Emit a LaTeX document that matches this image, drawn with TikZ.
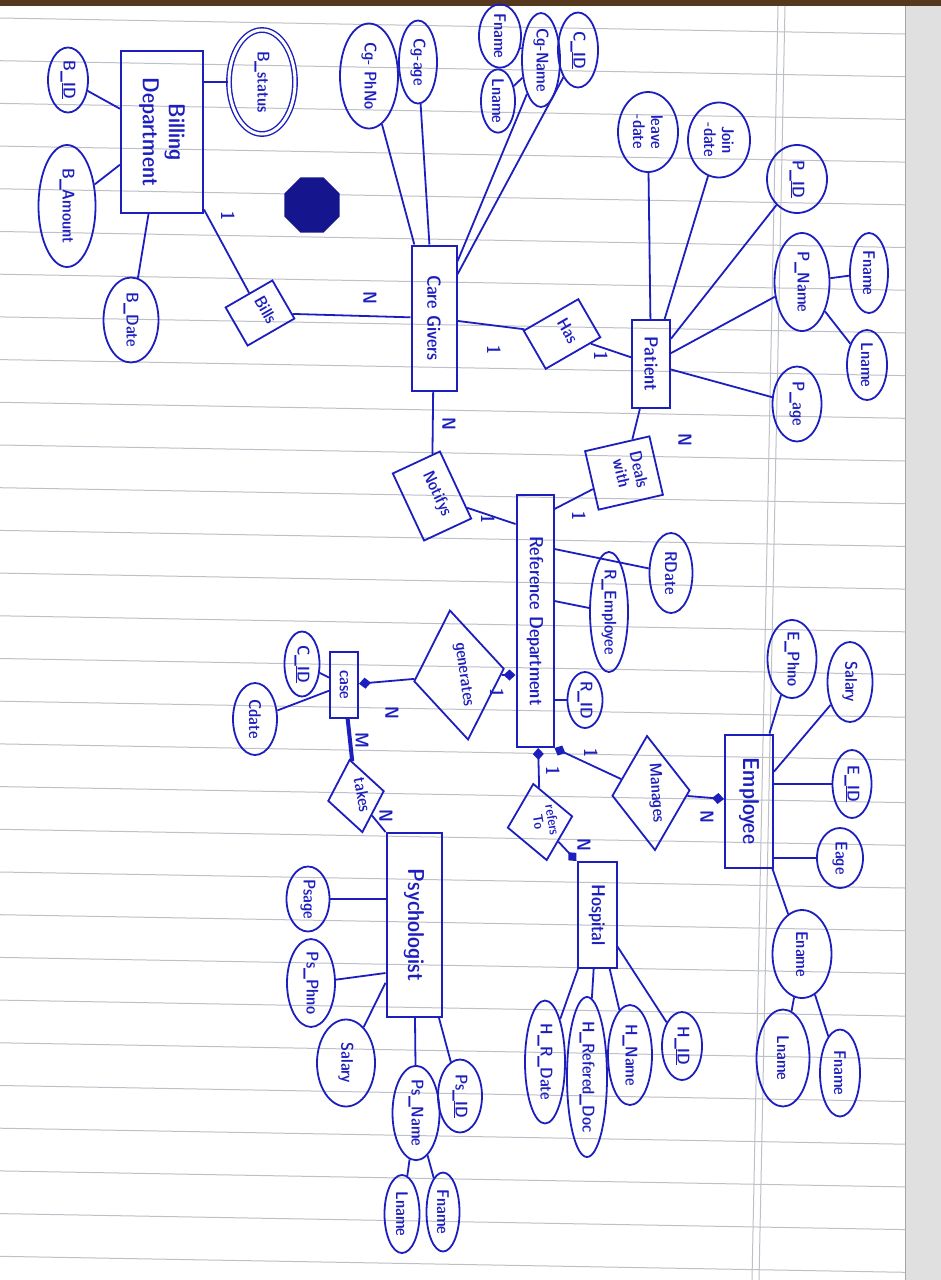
\documentclass[tikz,border=0pt]{standalone}
\usetikzlibrary{shapes.geometric,arrows.meta,calc}
\definecolor{inkc}{RGB}{28,30,190}
\definecolor{rulec}{RGB}{190,192,200}
\newcommand\hand{\sffamily\fontseries{sbc}\fontsize{17}{18}\selectfont}
\newcommand\handS{\sffamily\fontseries{sbc}\fontsize{14}{14}\selectfont}
\newcommand\handM{\sffamily\fontseries{sbc}\fontsize{19}{21}\selectfont}
\newcommand\handL{\sffamily\fontseries{sbc}\fontsize{23}{26}\selectfont}
\newcommand\handC{\sffamily\fontseries{sbc}\fontsize{19}{19}\selectfont}
\newcommand\ovl[1]{\smash{\makebox[0pt]{\begin{tabular}{@{}c@{}}#1\end{tabular}}}}
\begin{document}
\begin{tikzpicture}[x=1pt,y=-1pt,
 ent/.style={draw=inkc, line width=2pt, rectangle, inner sep=0pt, text=inkc, rotate=-90, align=center, font=\handL},
 att/.style={draw=inkc, line width=1.8pt, ellipse, inner sep=0pt, text=inkc, rotate=-90, align=center, font=\hand},
 relb/.style={draw=inkc, line width=1.8pt, rectangle, inner sep=0pt, text=inkc, align=center, font=\hand},
 reld/.style={draw=inkc, line width=1.8pt, diamond, inner sep=0pt, text=inkc, align=center, font=\hand},
 conn/.style={draw=inkc, line width=1.8pt},
 card/.style={text=inkc, font=\handC, rotate=-90, inner sep=0pt},
 tipend/.style={-{Diamond[length=12pt,width=11pt]}},
]
\useasboundingbox (0,0) rectangle (941,1280);
% paper
\fill[white] (0,0) rectangle (941,1280);
\fill[black!12] (905,0) rectangle (941,1280);
\draw[black!35, line width=1pt] (905,0) -- (905,1280);
\fill[brown!45!black] (0,0) rectangle (941,6);
\foreach \i in {0,...,29}
  \draw[rulec, line width=1pt] (0,{18+42.7*\i}) -- (905,{34+42.7*\i});
\draw[rulec, line width=1pt] (778,6) -- (752,1280);
\draw[rulec, line width=1pt] (785,6) -- (759,1280);

% scribble
\node[regular polygon, regular polygon sides=8, fill=inkc!75!black, minimum size=60, inner sep=0pt] (scrib) at (312,205) {};

% ---------- entities ----------
\node[ent, minimum width=162, minimum height=82] (bill) at (162,132) {Billing\\Department};
\node[ent, minimum width=145, minimum height=45, font=\handM] (cg) at (434,318) {Care Givers};
\node[ent, minimum width=88, minimum height=38, font=\handM] (pat) at (651,364) {Patient};
\node[ent, minimum width=252, minimum height=37, font=\handM] (ref) at (535,621) {Reference Department};
\node[ent, minimum width=66, minimum height=28, font=\hand] (case) at (344,685) {case};
\node[ent, minimum width=184, minimum height=55] (psy) at (414,925) {Psychologist};
\node[ent, minimum width=106, minimum height=39, font=\handM] (hosp) at (597,915) {Hospital};
\node[ent, minimum width=133, minimum height=48] (emp) at (749,801) {Employee};

% ---------- attributes ----------
\node[att, minimum width=65, minimum height=40] (bid) at (68,80) {B\_\underline{ID}};
\node[att, minimum width=104, minimum height=66, double=white, double distance=3pt, line width=1.4pt] (bstat) at (262,82) {B\_status};
\node[att, minimum width=122, minimum height=57] (bamt) at (67,206) {B\_Amount};
\node[att, minimum width=85, minimum height=55] (bdate) at (131,320) {B\_Date};

\node[att, minimum width=105, minimum height=58] (cgph) at (369,76) {Cg- PhNo};
\node[att, minimum width=83, minimum height=38] (cgage) at (418,62) {Cg-age};
\node[att, minimum width=94, minimum height=38] (cgname) at (541,60) {Cg-Name};
\node[att, minimum width=75, minimum height=40] (cgid) at (578,50) {C\_\underline{ID}};
\node[att, minimum width=58, minimum height=42] (cgf) at (500,36) {Fname};
\node[att, minimum width=58, minimum height=34] (cgl) at (498,101) {Lname};

\node[att, minimum width=80, minimum height=60] (leave) at (648,132) {leave\\-date};
\node[att, minimum width=75, minimum height=62] (join) at (719,140) {Join\\-date};
\node[att, minimum width=68, minimum height=60] (pid) at (797,179) {P\_\underline{ID}};
\node[att, minimum width=98, minimum height=55] (pname) at (802,282) {P\_Name};
\node[att, minimum width=80, minimum height=38] (pf) at (869,273) {Fname};
\node[att, minimum width=70, minimum height=40] (pl) at (867,365) {Lname};
\node[att, minimum width=75, minimum height=49] (page) at (797,404) {P\_age};

\node[att, minimum width=80, minimum height=43] (rdate) at (671,573) {RDate};
\node[att, minimum width=115, minimum height=38] (remp) at (609,612) {R\_Employee};
\node[att, minimum width=56, minimum height=35] (rid) at (585,700) {R\_ID};

\node[att, minimum width=65, minimum height=35] (cid) at (302,664) {C\_\underline{ID}};
\node[att, minimum width=72, minimum height=44] (cdate) at (255,719) {Cdate};

\node[att, minimum width=65, minimum height=43] (psage) at (308,899) {Psage};
\node[att, minimum width=87, minimum height=48] (psph) at (311,983) {Ps\_Phno};
\node[att, minimum width=87, minimum height=58] (pssal) at (346,1063) {Salary};
\node[att, minimum width=93, minimum height=47] (psname) at (416,1113) {Ps\_Name};
\node[att, minimum width=73, minimum height=44] (psid) at (460,1096) {Ps\_\underline{ID}};
\node[att, minimum width=78, minimum height=35] (psl) at (402,1214) {Lname};
\node[att, minimum width=79, minimum height=33] (psf) at (443,1212) {Fname};

\node[att, minimum width=123, minimum height=40] (hrd) at (545,1062) {H\_R\_Date};
\node[att, minimum width=160, minimum height=40] (hdoc) at (587,1077) {H\_Refered\_Doc};
\node[att, minimum width=100, minimum height=44] (hname) at (630,1055) {H\_Name};
\node[att, minimum width=68, minimum height=40] (hid) at (682,1046) {H\_\underline{ID}};

\node[att, minimum width=75, minimum height=49] (ephno) at (792,659) {E\_Phno};
\node[att, minimum width=80, minimum height=45] (esal) at (850,682) {Salary};
\node[att, minimum width=68, minimum height=39] (eid) at (852,784) {E\_\underline{ID}};
\node[att, minimum width=60, minimum height=46] (eage) at (840,858) {Eage};
\node[att, minimum width=88, minimum height=59] (ename) at (802,954) {Ename};
\node[att, minimum width=97, minimum height=53] (el) at (783,1058) {Lname};
\node[att, minimum width=87, minimum height=40] (ef) at (840,1073) {Fname};

% ---------- relationships ----------
\node[relb, rotate=-60, minimum width=44, minimum height=54] (bills) at (260,313) {\ovl{Bills}};
\node[relb, rotate=-60, minimum width=44, minimum height=63] (has) at (562,334) {\ovl{Has}};
\node[relb, rotate=-77, minimum width=60, minimum height=66] (deals) at (624,473) {\ovl{Deals\\with}};
\node[relb, rotate=-65, minimum width=74, minimum height=52] (notify) at (432,496) {\ovl{Notifys}};
\node[reld, rotate=-82, minimum width=131, minimum height=91] (gen) at (459,675) {\ovl{generates}};
\node[reld, rotate=-80, minimum width=74, minimum height=57] (takes) at (356,796) {\ovl{takes}};
\node[reld, rotate=-86, minimum width=115, minimum height=78] (man) at (651,793) {\ovl{Manages}};
\node[reld, rotate=-80, minimum width=78, minimum height=66, font=\handS] (refers) at (540,822) {\ovl{refers\\To}};

% ---------- attribute connectors ----------
\draw[conn] (bid) -- (bill);
\draw[conn] (bamt) -- (bill);
\draw[conn] (bdate) -- (bill);
\draw[conn] (bstat) -- (bstat -| bill.north);

\draw[conn] (cgph) -- (cg);
\draw[conn] (cgage) -- (cg);
\draw[conn] (cgname) -- (cg);
\draw[conn] (cgid) -- (cg);
\draw[conn] (cgf) -- (cgname);
\draw[conn] (cgl) -- (cgname);

\draw[conn] (leave) -- (pat);
\draw[conn] (join) -- (pat);
\draw[conn] (pid) -- (pat);
\draw[conn] (pname) -- (pat);
\draw[conn] (page) -- (pat);
\draw[conn] (pf) -- (pname);
\draw[conn] (pl) -- (pname);

\draw[conn] (rdate) -- ($(ref.north)+(0,-72)$);
\draw[conn] (remp) -- ($(ref.north)+(0,-20)$);
\draw[conn] (rid) -- (rid -| ref.north);

\draw[conn] (cid) -- (case);
\draw[conn] (cdate) -- (case);

\draw[conn] (psage) -- (psage -| psy.south);
\draw[conn] (psph) -- ($(psy.south)+(0,48)$);
\draw[conn] (pssal) -- (psy);
\draw[conn] (psname) -- (psy);
\draw[conn] (psid) -- (psy);
\draw[conn] (psl) -- (psname);
\draw[conn] (psf) -- (psname);

\draw[conn] (hrd) -- (hosp);
\draw[conn] (hdoc) -- (hosp);
\draw[conn] (hname) -- (hosp);
\draw[conn] (hid) -- (hosp);

\draw[conn] (ephno) -- (emp);
\draw[conn] (esal) -- (emp);
\draw[conn] (eid) -- (eid -| emp.north);
\draw[conn] (eage) -- (eage -| emp.north);
\draw[conn] (ename) -- (emp);
\draw[conn] (el) -- (ename);
\draw[conn] (ef) -- (ename);

% ---------- relationship connectors ----------
\draw[conn] (bill) -- (bills);
\draw[conn] (bills) -- (cg);
\draw[conn] (cg) -- (has);
\draw[conn] (has) -- (pat);
\draw[conn] (pat) -- (deals);
\draw[conn] (deals) -- ($(ref.north west)+(0,15)$);
\draw[conn] (cg) -- (notify);
\draw[conn] (notify) -- ($(ref.south west)+(0,30)$);
\draw[conn, tipend] (gen) -- (gen -| ref.south);
\draw[conn, tipend] (gen) -- (case);
\draw[conn, line width=4pt] (takes) -- (case);
\draw[conn] (takes) -- (psy.south west);
\draw[conn, tipend] (refers) -- (ref);
\draw[conn, tipend] (man) -- (ref.north east);
\draw[conn, tipend] (refers) -- (hosp.south west);
\draw[conn, tipend] (man) -- (emp);

% ---------- cardinalities ----------
\node[card] (c1) at (228,216) {1};
\node[card] (c2) at (370,298) {N};
\node[card] (c3) at (494,350) {1};
\node[card] (c4) at (601,356) {1};
\node[card] (c5) at (685,440) {N};
\node[card] (c6) at (579,516) {1};
\node[card] (c7) at (449,424) {N};
\node[card] (c8) at (488,519) {1};
\node[card] (c9) at (497,693) {1};
\node[card] (c10) at (392,713) {N};
\node[card] (c11) at (362,740) {M};
\node[card] (c12) at (386,816) {N};
\node[card] (c13) at (553,771) {1};
\node[card] (c14) at (591,753) {1};
\node[card] (c15) at (584,845) {N};
\node[card] (c16) at (707,817) {N};
\end{tikzpicture}
\end{document}
